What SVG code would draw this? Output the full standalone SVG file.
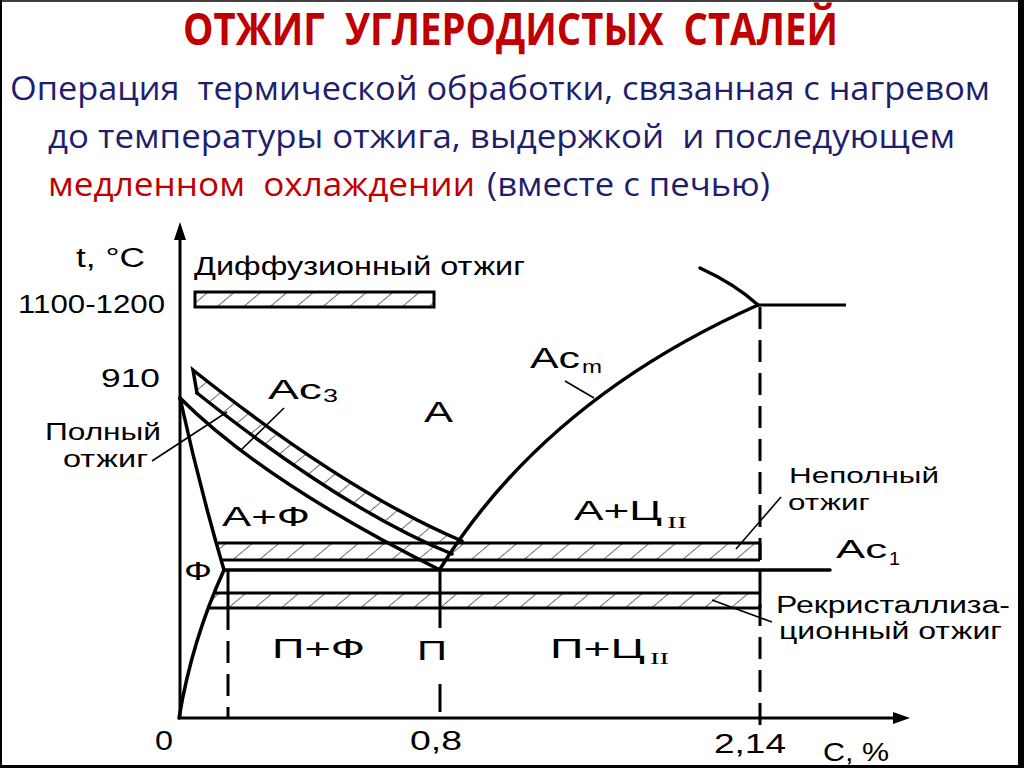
<svg xmlns="http://www.w3.org/2000/svg" width="1024" height="768" viewBox="0 0 1024 768">
<style>
.ttl{font-family:"Open Sans","Noto Sans",sans-serif;font-weight:bold;fill:#C00000;white-space:pre}
.body{font-family:"Open Sans","Noto Sans",sans-serif;font-size:33px;fill:#1F1F6E;white-space:pre}
.red{fill:#C00000}
.lbl{font-family:"Liberation Sans",Arial,sans-serif;fill:#000;white-space:pre}
.rom{font-family:"Liberation Serif","Times New Roman",serif;fill:#000}
.th{fill:none;stroke:#000;stroke-width:3.5;stroke-linecap:round}
.md{fill:none;stroke:#000;stroke-width:3}
.thin{fill:none;stroke:#000;stroke-width:1.6}
.dash{fill:none;stroke:#000;stroke-width:3;stroke-dasharray:22 11}
.hatch{fill:url(#hp);stroke:none}
</style>
<defs>
<pattern id="hp" patternUnits="userSpaceOnUse" width="17" height="10" patternTransform="rotate(50)">
<line x1="0" y1="0" x2="0" y2="10" stroke="#222" stroke-width="1.3"/>
</pattern>
</defs>
<rect width="1024" height="768" fill="#fff"/>
<g id="frame">
<line x1="1" y1="0" x2="1" y2="768" stroke="#000" stroke-width="2"/>
<line x1="0" y1="1" x2="1024" y2="1" stroke="#000" stroke-width="1.5"/>
<rect x="1018" y="0" width="6" height="768" fill="#000"/>
<rect x="0" y="765" width="1024" height="3" fill="#000"/>
</g>
<g id="title">
<text class="ttl" x="183" y="45" font-size="44" textLength="655" lengthAdjust="spacingAndGlyphs">ОТЖИГ  УГЛЕРОДИСТЫХ  СТАЛЕЙ</text>
</g>
<g id="definition">
<text class="body" x="10" y="100" textLength="980" lengthAdjust="spacingAndGlyphs">Операция  термической обработки, связанная с нагревом</text>
<text class="body" x="48" y="148" textLength="907" lengthAdjust="spacingAndGlyphs">до температуры отжига, выдержкой  и последующем</text>
<text class="body" y="196"><tspan class="red" x="48" textLength="427" lengthAdjust="spacingAndGlyphs">медленном  охлаждении</tspan><tspan x="487" textLength="283" lengthAdjust="spacingAndGlyphs">(вместе с печью)</tspan></text>
</g>
<g id="axes">
<line class="md" x1="180" y1="719" x2="180" y2="234"/>
<polygon points="180,222 174,240 186,240" fill="#000"/>
<line class="md" x1="178" y1="718" x2="896" y2="718"/>
<polygon points="910,718 893,712 893,724" fill="#000"/>
<text class="lbl" x="76" y="267" font-size="27" textLength="69" lengthAdjust="spacingAndGlyphs">t, °C</text>
<text class="lbl" x="18" y="313" font-size="25" textLength="147" lengthAdjust="spacingAndGlyphs">1100-1200</text>
<text class="lbl" x="101" y="387" font-size="26" textLength="59" lengthAdjust="spacingAndGlyphs">910</text>
<text class="lbl" x="155" y="750" font-size="27" textLength="18" lengthAdjust="spacingAndGlyphs">0</text>
<text class="lbl" x="410" y="750" font-size="27" textLength="52" lengthAdjust="spacingAndGlyphs">0,8</text>
<text class="lbl" x="714" y="753" font-size="27" textLength="72" lengthAdjust="spacingAndGlyphs">2,14</text>
<text class="lbl" x="823" y="761" font-size="25" textLength="66" lengthAdjust="spacingAndGlyphs">C, %</text>
</g>
<g id="diffusion-annealing">
<text class="lbl" x="194" y="275" font-size="25" textLength="331" lengthAdjust="spacingAndGlyphs">Диффузионный отжиг</text>
<rect x="195" y="292" width="239" height="15" class="hatch"/>
<rect x="195" y="292" width="239" height="15" class="md"/>
</g>
<g id="full-annealing">
<path class="hatch" d="M193,370 Q346,492 462,541 L450,554 Q344,510 197,393 Z"/>
<path class="th" d="M197,393 L193,370 Q346,492 462,541"/>
<path class="th" d="M197,393 Q344,510 452,554"/>
<text class="lbl" x="45" y="440" font-size="24" textLength="116" lengthAdjust="spacingAndGlyphs">Полный</text>
<text class="lbl" x="63" y="467" font-size="24" textLength="85" lengthAdjust="spacingAndGlyphs">отжиг</text>
<line class="thin" x1="152" y1="461" x2="227" y2="412"/>
</g>
<g id="incomplete-annealing">
<polygon class="hatch" points="218,543 760,543 760,560 222,560"/>
<line class="md" x1="218" y1="543" x2="760" y2="543"/>
<line class="md" x1="222" y1="560" x2="760" y2="560"/>
<text class="lbl" x="789" y="483" font-size="22" textLength="150" lengthAdjust="spacingAndGlyphs">Неполный</text>
<text class="lbl" x="788" y="510" font-size="22" textLength="82" lengthAdjust="spacingAndGlyphs">отжиг</text>
<line class="thin" x1="781" y1="497" x2="736" y2="549"/>
</g>
<g id="recrystallization-annealing">
<polygon class="hatch" points="213,593 760,593 760,608 208,608"/>
<line class="md" x1="213" y1="593" x2="760" y2="593"/>
<line class="md" x1="208" y1="608" x2="760" y2="608"/>
<text class="lbl" x="776" y="613" font-size="23" textLength="234" lengthAdjust="spacingAndGlyphs">Рекристаллиза-</text>
<text class="lbl" x="779" y="639" font-size="23" textLength="223" lengthAdjust="spacingAndGlyphs">ционный отжиг</text>
<line class="thin" x1="772" y1="622" x2="712" y2="600"/>
</g>
<g id="phase-lines">
<path class="th" d="M180,398 Q264,482 440,570"/>
<path class="th" d="M180,398 Q199,485 224,570"/>
<path class="th" d="M224,570 Q192,640 179,718"/>
<path class="th" d="M440,569 Q545,400 758,305"/>
<path class="th" d="M700,268 Q735,284 758,305"/>
<line class="md" x1="758" y1="305" x2="846" y2="305"/>
<line class="th" x1="225" y1="570" x2="830" y2="570"/>
<line class="md" x1="228" y1="570" x2="228" y2="608"/>
<line class="md" x1="440" y1="570" x2="440" y2="608"/>
<line class="dash" x1="228" y1="608" x2="228" y2="718"/>
<line class="md" x1="440" y1="608" x2="440" y2="628"/>
<line class="md" x1="440" y1="684" x2="440" y2="712"/>
<line class="dash" x1="760" y1="307" x2="760" y2="729"/>
<line class="md" x1="760" y1="543" x2="760" y2="560"/>
<line class="md" x1="760" y1="593" x2="760" y2="608"/>
<line class="thin" x1="284" y1="408" x2="240" y2="451"/>
<line class="thin" x1="565" y1="381" x2="594" y2="398"/>
</g>
<g id="region-labels">
<text class="lbl" x="268" y="399" font-size="28" textLength="54" lengthAdjust="spacingAndGlyphs">Ac</text>
<text class="lbl" x="323" y="402" font-size="18" textLength="15" lengthAdjust="spacingAndGlyphs">3</text>
<text class="lbl" x="424" y="422" font-size="30" textLength="29" lengthAdjust="spacingAndGlyphs">A</text>
<text class="lbl" x="530" y="368" font-size="30" textLength="50" lengthAdjust="spacingAndGlyphs">Ac</text>
<text class="lbl" x="582" y="373" font-size="18" textLength="20" lengthAdjust="spacingAndGlyphs">m</text>
<text class="lbl" x="222" y="526" font-size="28" textLength="88" lengthAdjust="spacingAndGlyphs">A+Ф</text>
<text class="lbl" x="574" y="520" font-size="28" textLength="88" lengthAdjust="spacingAndGlyphs">A+Ц</text>
<text class="rom" x="667" y="528" font-size="17" textLength="20" lengthAdjust="spacingAndGlyphs">II</text>
<text class="lbl" x="836" y="558" font-size="26" textLength="51" lengthAdjust="spacingAndGlyphs">Ac</text>
<text class="lbl" x="889" y="565" font-size="18" textLength="11" lengthAdjust="spacingAndGlyphs">1</text>
<text class="lbl" x="184" y="580" font-size="26" textLength="28" lengthAdjust="spacingAndGlyphs">Ф</text>
<text class="lbl" x="272" y="658" font-size="28" textLength="93" lengthAdjust="spacingAndGlyphs">П+Ф</text>
<text class="lbl" x="417" y="660" font-size="28" textLength="30" lengthAdjust="spacingAndGlyphs">П</text>
<text class="lbl" x="550" y="658" font-size="28" textLength="95" lengthAdjust="spacingAndGlyphs">П+Ц</text>
<text class="rom" x="650" y="664" font-size="17" textLength="19" lengthAdjust="spacingAndGlyphs">II</text>
</g>
</svg>
